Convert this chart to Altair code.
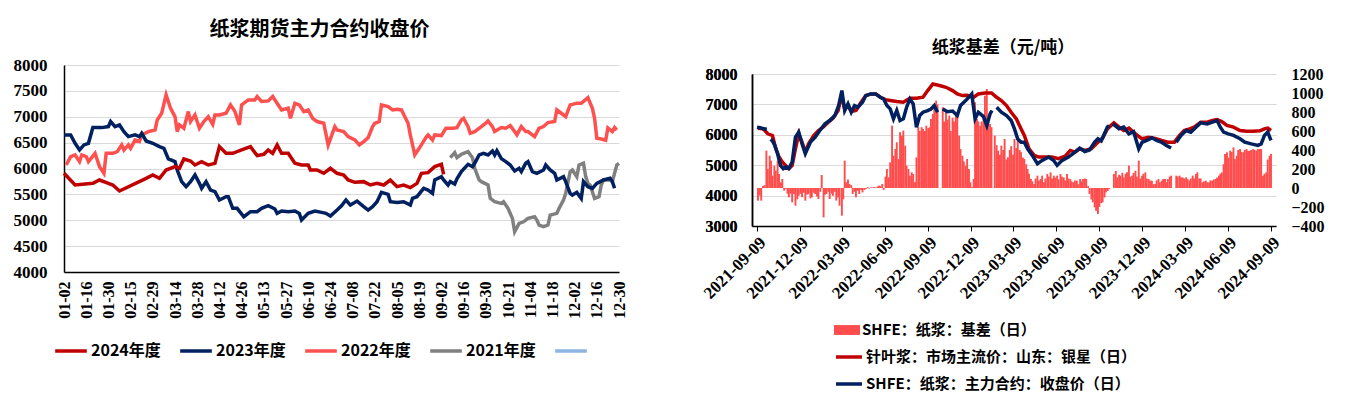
import altair as alt
import pandas as pd

FONT_NUM = "Liberation Serif"
FONT_CJK = "Noto Sans CJK SC"

# ---------------- left chart: 纸浆期货主力合约收盘价 ----------------
tick_labels_left = ["01-02", "01-16", "01-30", "02-15", "02-29", "03-14", "03-28", "04-12", "04-26",
                    "05-13", "05-27", "06-10", "06-24", "07-08", "07-22", "08-05", "08-19", "09-02",
                    "09-16", "09-30", "10-21", "11-04", "11-18", "12-02", "12-16", "12-30"]
series_left = ["2024年度", "2023年度", "2022年度", "2021年度", " "]
colors_left = ["#C00000", "#002060", "#FF5050", "#808080", "#8EB4E3"]

idx_2024 = [0, 5, 13, 16, 20, 22, 25, 37, 40, 43, 46, 50, 52, 54, 57, 59, 62, 65, 68, 70, 73, 76, 80, 84,
            87, 90, 92, 94, 96, 98, 101, 104, 107, 110, 111, 114, 117, 120, 123, 126, 128, 131, 135, 138,
            141, 144, 147, 150, 153, 156, 159, 161, 164, 167, 170, 171]
val_2024 = [5907, 5681, 5713, 5778, 5713, 5681, 5565, 5810, 5875, 5810, 5971, 6036, 6004, 6184, 6145, 6068,
            6133, 6068, 6100, 6423, 6294, 6294, 6358, 6423, 6249, 6275, 6358, 6294, 6455, 6294, 6294, 6101,
            6068, 6068, 5971, 5971, 5907, 6004, 5907, 5875, 5778, 5733, 5746, 5681, 5713, 5681, 5778, 5649,
            5681, 5630, 5713, 5907, 5920, 6036, 6081, 5888]

idx_2023 = [0, 3, 5, 7, 9, 11, 13, 17, 20, 21, 23, 25, 27, 29, 32, 34, 35, 37, 40, 43, 45, 47, 50, 51, 53,
            55, 57, 59, 61, 62, 64, 66, 68, 70, 73, 74, 76, 78, 81, 83,
            84, 87, 89, 92, 95, 96, 98, 101, 104, 106, 107, 110, 113, 116, 118, 120, 123, 125, 127, 129,
            132, 135, 137, 139, 141, 143, 146, 147, 150, 153, 156, 157, 159, 162, 164, 166,
            167, 170, 171, 173, 174, 176, 177, 179, 182, 184, 185, 187, 189, 191, 193, 194, 195, 197, 199,
            201, 203, 205, 206, 208, 209, 211, 213, 216, 217, 219, 221, 222, 225, 226, 228, 229, 231, 233,
            234, 236, 238, 240, 243, 246, 247, 248]
val_2023 = [6649, 6649, 6487, 6358, 6455, 6487, 6790, 6790, 6810, 6907, 6810, 6842, 6713, 6616, 6649, 6616,
            6681, 6532, 6487, 6423, 6390, 6184, 6133, 5971, 5746, 5649, 5746, 5875, 5713, 5617, 5746, 5584,
            5552, 5391, 5455, 5455, 5230, 5230, 5068, 5133,
            5165, 5165, 5230, 5281, 5217, 5133, 5178, 5165, 5178, 5133, 5004, 5133, 5178, 5152, 5133, 5081,
            5197, 5281, 5391, 5294, 5371, 5262, 5197, 5262, 5358, 5539, 5500, 5358, 5345, 5358, 5294, 5423,
            5455, 5617, 5584, 5520,
            5778, 5842, 5778, 5681, 5746, 5700, 5800, 5939, 6081, 6036, 6101, 6262, 6294, 6262, 6339, 6262,
            6345, 6191, 6133, 6068, 5952, 6004, 5939, 6101, 6133, 5939, 5907, 5971, 6068, 5971, 5907, 5778,
            5842, 5746, 5520, 5487, 5539, 5423, 5746, 5649, 5617, 5713, 5778, 5810, 5746, 5617]

idx_2022 = [1, 3, 5, 7, 8, 10, 11, 14, 15, 16, 18, 19, 22, 24, 26, 27, 29, 30, 32, 34, 35, 38, 41, 42, 44,
            46, 48, 50, 51, 52, 54, 56, 57, 59, 61, 63, 65, 67, 68, 70, 73, 75, 77, 79, 80, 83,
            86, 87, 89, 92, 94, 96, 98, 101, 102, 104, 106, 108, 110, 112, 114, 117, 119, 122, 123, 126,
            128, 131, 133, 135, 137, 139, 140, 142, 143, 146, 148, 150, 152, 155, 156, 158, 160, 163, 164, 166,
            167, 170, 172, 175, 177, 179, 180, 182, 183, 185, 188, 190, 191, 193, 194, 197, 199, 201, 203,
            204, 206, 208, 209, 212, 214, 216, 218, 221, 222, 224, 226, 228, 231, 233, 236, 238, 239, 240,
            242, 244, 245, 247, 248, 249]
val_2022 = [6068, 6229, 6262, 6133, 6262, 6229, 6133, 6294, 6165, 6036, 5907, 6294, 6294, 6326, 6455, 6358,
            6455, 6390, 6552, 6520, 6649, 6713, 6745, 6939, 7068, 7423, 7165, 7003, 6713, 6842, 6778, 7100,
            6907, 7036, 6778, 6907, 7003, 6855, 7036, 7036, 7068, 7229, 7100, 6842, 7229, 7326,
            7326, 7390, 7294, 7306, 7390, 7261, 7132, 7165, 6971, 7261, 7229, 7100, 7132, 6971, 6907, 6874,
            6455, 6810, 6745, 6713, 6616, 6552, 6455, 6520, 6597, 6810, 6874, 6907, 7229, 7197, 7132, 7145,
            7132, 6874, 6649, 6262, 6390, 6597, 6649, 6552,
            6649, 6636, 6778, 6778, 6790, 6939, 6971, 6810, 6681, 6713, 6810, 6874, 6920, 6810, 6713, 6790,
            6778, 6830, 6713, 6649, 6810, 6713, 6713, 6616, 6778, 6810, 6888, 6907, 7132, 7068, 7003, 7229,
            7261, 7261, 7371, 7165, 6971, 6584, 6571, 6546, 6784, 6713, 6791, 6745]

idx_2021 = [174, 176, 177, 179, 180, 182, 184, 185, 187, 188, 191, 192, 194, 197, 198, 200, 202, 203, 205,
            207, 209, 212, 213, 214, 216, 218, 219, 222, 223, 225, 226, 228, 229, 231, 232, 234, 235, 236,
            237, 239, 241, 242, 243, 246, 247, 249, 250]
val_2021 = [6210, 6307, 6210, 6275, 6294, 6326, 6210, 6004, 5778, 5746, 5681, 5423, 5358, 5326, 5358, 5230,
            5036, 4778, 4939, 4970, 5036, 5068, 5004, 4907, 4875, 4907, 5100, 5133, 5230, 5391, 5520, 5939,
            5971, 5842, 6068, 6101, 5842, 5713, 5681, 5423, 5455, 5681, 5778, 5778, 5746, 6068, 6100]

left_rows = []
for name, idx, val in [("2022年度", idx_2022, val_2022), ("2021年度", idx_2021, val_2021),
                       ("2023年度", idx_2023, val_2023), ("2024年度", idx_2024, val_2024)]:
    assert len(idx) == len(val), name
    left_rows += [{"idx": i, "val": v, "series": name} for i, v in zip(idx, val)]
left_df = pd.DataFrame(left_rows)

label_expr = "[" + ",".join("'%s'" % s for s in tick_labels_left) + "][round(datum.value / 10)]"

x_left = alt.X("idx:Q", scale=alt.Scale(domain=[0, 250], nice=False, zero=False),
               axis=alt.Axis(values=list(range(0, 251, 10)), labelExpr=label_expr, labelAngle=-90,
                             ticks=False, grid=False, domainColor="black", domainWidth=1.5, title=None,
                             labelFont=FONT_NUM, labelFontWeight="bold", labelFontSize=16,
                             labelColor="black", labelPadding=9, labelOverlap=False))
y_left = alt.Y("val:Q", scale=alt.Scale(domain=[4000, 8000], nice=False, zero=False),
               axis=alt.Axis(values=list(range(4000, 8001, 500)), format="d", grid=True,
                             gridColor="#D9D9D9", gridWidth=1.2, ticks=False, domainColor="black",
                             domainWidth=1.5, title=None, labelFont=FONT_NUM, labelFontWeight="bold",
                             labelFontSize=17, labelColor="black", labelPadding=17))
color_left = alt.Color("series:N", scale=alt.Scale(domain=series_left, range=colors_left),
                       legend=alt.Legend(title=None, orient="none", legendX=-11, legendY=268,
                                         direction="horizontal", symbolType="stroke", symbolSize=1000,
                                         symbolStrokeWidth=3.5, labelFont=FONT_CJK, labelFontWeight="bold",
                                         labelFontSize=16, labelColor="black", columnPadding=12,
                                         labelOffset=2, padding=0, labelLimit=0))

left_layers = []
for name in ["2022年度", "2021年度", "2023年度", "2024年度"]:
    left_layers.append(
        alt.Chart(left_df).transform_filter(alt.datum.series == name)
        .mark_line(strokeWidth=3.5)
        .encode(x=x_left, y=y_left, color=color_left, order=alt.Order("idx:Q"))
    )
left = alt.layer(*left_layers).properties(
    width=555, height=207,
    title=alt.TitleParams("纸浆期货主力合约收盘价", font=FONT_CJK, fontSize=20, fontWeight="bold",
                          color="black", anchor="middle", dx=-22, offset=16))

# ---------------- right chart: 纸浆基差（元/吨） ----------------
start_date = "2021-09-09"
basis_name = "SHFE：纸浆：基差（日）"
spot_name = "针叶浆：市场主流价：山东：银星（日）"
fut_name = "SHFE：纸浆：主力合约：收盘价（日）"

spot_day = [2, 13, 23, 33, 40, 47, 54, 61, 68, 75, 82, 89, 96, 103, 110, 121, 131, 141, 152, 162, 173, 180,
            187, 194, 201, 211, 222, 232, 243, 253, 263, 274, 284, 298, 312, 326, 340, 354, 364,
            375, 389, 403, 417, 427, 438, 448, 462, 472, 486, 500, 511, 521, 532, 542, 553, 563, 570, 580,
            591, 601, 615, 629, 643, 657, 668, 678, 688, 699, 713,
            723, 737, 747, 761, 772, 782, 793, 807, 821, 835, 849, 863, 876, 890, 901, 911, 922, 932, 946,
            960, 971, 981, 991, 1002, 1016, 1030, 1044, 1058, 1072, 1082, 1089, 1096]
spot_val = [6218, 6200, 6033, 5978, 5541, 5268, 5104, 4994, 4885, 4994, 5541, 6033, 5760, 5431, 5705, 5978,
            6142, 6250, 6415, 6546, 6798, 7290, 6852, 6960, 6765, 6800, 7071, 7290, 7344, 7344, 7235, 7158,
            7130, 7093, 7071, 7202, 7202, 7235, 7454,
            7672, 7620, 7563, 7454, 7344, 7290, 7300, 7235, 7344, 7377, 7377, 7235, 7126, 6962, 6743, 6524,
            6196, 5978, 5541, 5322, 5268, 5268, 5268, 5213, 5300, 5486, 5431, 5541, 5486, 5541,
            5700, 5900, 6196, 6393, 6251, 6142, 6220, 6033, 5869, 5920, 5880, 5814, 5759, 5759, 5978, 6142,
            6196, 6251, 6415, 6415, 6469, 6500, 6437, 6306, 6251, 6142, 6120, 6120, 6130, 6196, 6218, 6142]

# None marks a holiday break in the futures series
fut_day = [0, 7, 14, 21, 25,
           29, 33, 38, 44, 50, 56, 62, 68, 75, 82, 89, 96, 103, 114, 124, 134, 145, 155, 166, 174, 181, 187,
           194, 201, 208, 215, 225, 232, 243, 253, 263, 270, 277, 284, 291, 298, 305, 312, 319, 326, 333,
           340, 347, 354, 364, 371, 378, 385, 390,
           396, 406, 417, 427, 434, 445, 458, 465, 472, 483, 490, 497, 501, 505,
           511, 521, 532, 542, 549, 556, 563, 570, 577, 587, 598, 608, 622, 633, 640, 650, 664, 678, 688,
           699, 709, 720, 727, 734, 740, 747, 751, 755,
           759, 772, 782, 793, 803, 814, 821, 831, 842, 852, 862, 873, 883, 888,
           894, 904, 915, 925, 936, 946, 960, 971, 981, 988, 995, 1005, 1016, 1030, 1040, 1054, 1068, 1075,
           1082, 1089, 1096]
fut_val = [6251, 6230, 6196, 6180, None,
           5847, 5800, 5650, 5377, 4994, 4885, 4940, 4900, 5104, 5923, 6087, 5705, 5377, 5759, 5923, 6142,
           6360, 6469, 6634, 6962, 7454, 6798, 7017, 6743, 6962, 6907, 7071, 7290, 7344, 7344, 7235, 7180,
           6962, 6852, 6524, 6800, 6469, 6524, 6907, 7180, 7017, 6251, 6634, 6743, 6798, 6850, 6962, 6743,
           None,
           6852, 6760, 6780, 6634, 6962, 7126, 7344, 6524, 6743, 6600, 6306, 6688, 6800, None,
           6907, 6743, 6634, 6469, 6196, 5859, 5759, 5759, 5541, 5322, 5049, 5158, 5268, 5150, 4994, 5150,
           5268, 5431, 5563, 5450, 5500, 5759, 5869, 5800, 6000, 6251, 6300, None,
           6360, 6200, 6251, 6033, 6100, 5541, 5750, 5814, 5900, 5814, 5759, 5650, 5563, None,
           5759, 5978, 6142, 6087, 6251, 6393, 6360, 6415, 6469, 6251, 6087, 6033, 5980, 5870, 5759, 5700,
           5650, 5700, 5978, 6087, 5814]

basis_day = [2, 6, 9, 13, 16, 20, 23, 27, 30, 33, 37, 40, 44, 47, 51, 54, 58, 61, 65, 68, 72, 75, 79, 82,
             86, 89, 93, 96, 100, 103, 107, 110, 114, 117, 121, 124, 128, 131, 135, 138, 142, 145, 148, 152,
             155, 159, 162, 166, 169, 173, 176, 181, 184, 187, 190, 194, 197, 201, 204, 208, 211, 215, 218,
             222, 225, 229, 232, 236, 239, 243, 246, 250, 253, 257, 260, 263, 267, 270, 274, 277, 281, 284,
             288, 291, 295, 298, 302, 305, 309, 312, 316, 319, 323, 326, 330, 333, 337, 340, 344, 347, 351,
             354, 358, 361, 365, 368,
             371, 375, 378, 382, 385, 396, 399, 403, 406, 410, 413, 417, 420, 424, 427, 431, 434, 438, 441,
             445, 448, 452, 455, 459, 462, 465, 469, 472, 476, 479, 483, 486, 490, 493, 497, 500, 507, 511,
             514, 518, 521, 525, 528, 532, 535, 539, 542, 546, 549, 553, 556, 560, 563, 567, 570, 574, 577,
             580, 584, 587, 591, 594, 598, 601, 605, 608, 612, 615, 619, 622, 626, 629, 633, 636, 640, 643,
             647, 650, 654, 657, 661, 664, 668, 671, 675, 678, 682, 685, 689, 692, 695, 699, 702, 706, 709,
             713, 716, 720, 723, 727, 730, 734, 737, 741, 744, 748, 751,
             761, 765, 768, 772, 775, 779, 782, 786, 789, 793, 796, 800, 803, 807, 810, 814, 817, 821, 824,
             828, 831, 835, 838, 842, 845, 849, 852, 856, 859, 863, 866, 870, 873, 876, 880, 883,
             894, 897, 901, 904, 908, 911, 915, 918, 922, 925, 929, 932, 936, 939, 943, 946, 950, 953, 957,
             960, 964, 967, 971, 974, 978, 981, 985, 988, 991, 995, 998, 1002, 1005, 1009, 1012, 1016, 1019,
             1023, 1026, 1030, 1033, 1037, 1040, 1044, 1047, 1051, 1054, 1058, 1061, 1065, 1068, 1072, 1075,
             1079, 1082, 1086, 1089, 1093, 1096]
basis_val = [-133, -80, -133, 20, 30, 393, 200, 340, 288, 130, 235, 182, 288, 147, 60, 95, -28, -10, -60,
             -98, -60, -151, -63, -186, -120, -81, -60, -98, -50, -133, -70, -63, -110, -98, -50, -63, -90,
             -116, -40, 137, -309, -70, -63, -40, -116, -60, -81, -40, -133, -100, -186, -291, -120, 288, 60,
             90, 42, 30, -63, -40, -98, -30, -63, -20, -46, -20, -10, 10, -5, 5, 5, 10, 5, 15, 25, 20, 42,
             -20, 120, 200, 112, 270, 656, 340, 410, 481, 305, 586, 551, 604, 446, 235, 200, 130, 165, 147,
             60, 323, 639, 600, 640, 621, 600, 656, 630, 639,
             727, 780, 832, 920, 880, 849, 700, 797, 720, 762, 600, 740, 700, 762, 744, 551, 410, 340, 280,
             235, 305, 200, 60, 10, 95, 902, 727, 700, 656, 700, 740, 972, 1042, 740, 674, 640, 551, 450,
             393, 350, 446, 400, 516, 300, 323, 400, 440, 350, 516, 420, 500, 400, 376, 320, 305, 250, 200,
             150, 95, 70, 42, 100, 130, 80, 95, 130, 60, 100, 147, 120, 165, 100, 130, 110, 130, 90,
             147, 120, 112, 80, 147, 100, 95, 70, 60, 80, 77, 40, 95, 70, 95, 100, 95, 20, -63,
             -120, -151, -204, -240, -274, -200, -160, -151, -100, -46, -30, -10,
             147, 180, 112, 140, 130, 160, 112, 150, 165, 235, 120, 130, 160, 182, 120, 288, 100, 130, 150,
             165, 100, 95, 80, 77, 40, 42, 80, 95, 60, 77, 95, 95, 60, 95, 120, 130,
             130, 120, 130, 112, 110, 100, 112, 95, 80, 100, 130, 100, 147, 165, 100, 100, 60, 70, 77,
             60, 60, 80, 77, 90, 95, 110, 130, 150, 165, 250, 358, 376, 320, 393, 380, 428, 305,
             340, 400, 410, 380, 376, 400, 410, 390, 393, 400, 410, 400, 393, 410, 410, 410,
             130, 150, 165, 300, 340, 358]

assert len(spot_day) == len(spot_val)
assert len(fut_day) == len(fut_val)
assert len(basis_day) == len(basis_val)

base_ts = pd.Timestamp(start_date)


def to_date(d):
    return (base_ts + pd.Timedelta(days=int(d))).strftime("%Y-%m-%dT00:00:00")


basis_df = pd.DataFrame({"date": [to_date(d) for d in basis_day], "val": basis_val,
                         "series": basis_name})
spot_df = pd.DataFrame({"date": [to_date(d) for d in spot_day], "val": spot_val, "series": spot_name})
fut_rows = []
seg = 0
for d, v in zip(fut_day, fut_val):
    if v is None:
        seg += 1
        continue
    fut_rows.append({"date": to_date(d), "val": v, "series": fut_name, "seg": seg})
fut_df = pd.DataFrame(fut_rows)

quarter_ticks = [alt.DateTime(year=y, month=m, date=9) for (y, m) in
                 [(2021, 9), (2021, 12), (2022, 3), (2022, 6), (2022, 9), (2022, 12), (2023, 3),
                  (2023, 6), (2023, 9), (2023, 12), (2024, 3), (2024, 6), (2024, 9)]]

x_right = alt.X("date:T",
                scale=alt.Scale(domain=[alt.DateTime(year=2021, month=9, date=9),
                                        alt.DateTime(year=2024, month=9, date=9)]),
                axis=alt.Axis(values=quarter_ticks, format="%Y-%m-%d", labelAngle=-45, ticks=True,
                              tickColor="black", tickSize=5, domainColor="black", domainWidth=1.5,
                              grid=False, title=None, labelFont=FONT_NUM, labelFontWeight="bold",
                              labelFontSize=17, labelColor="black", labelOverlap=False, labelPadding=3))
y_price = alt.Y("val:Q", scale=alt.Scale(domain=[3000, 8000], nice=False, zero=False),
                axis=alt.Axis(orient="left", values=list(range(3000, 8001, 1000)), format="d", grid=True,
                              gridColor="#D9D9D9", gridWidth=1.2, ticks=False, domainColor="black",
                              domainWidth=1.5, title=None, labelFont=FONT_NUM, labelFontWeight="bold",
                              labelFontSize=16, labelColor="black", labelPadding=15))
y_basis = alt.Y("val:Q", scale=alt.Scale(domain=[-400, 1200], nice=False),
                axis=alt.Axis(orient="right", values=list(range(-400, 1201, 200)), format="d", grid=False,
                              domain=False, ticks=False, title=None, labelFont=FONT_NUM,
                              labelFontWeight="bold", labelFontSize=16, labelColor="black",
                              labelPadding=15))

fill_enc = alt.Fill("series:N", scale=alt.Scale(domain=[basis_name], range=["#FF4D4D"]),
                    legend=alt.Legend(title=None, orient="none", legendX=82, legendY=243,
                                      symbolType="M-1,-0.38H1V0.38H-1Z", symbolSize=676,
                                      symbolStrokeWidth=0, labelFont=FONT_CJK, labelFontWeight="bold",
                                      labelFontSize=15, labelColor="black", labelOffset=2, padding=0,
                                      labelLimit=0))
stroke_enc = alt.Stroke("series:N", scale=alt.Scale(domain=[spot_name, fut_name],
                                                    range=["#C00000", "#002060"]),
                        legend=alt.Legend(title=None, orient="none", legendX=82, legendY=268,
                                          direction="vertical", symbolType="stroke", symbolSize=676,
                                          symbolStrokeWidth=3.5, labelFont=FONT_CJK,
                                          labelFontWeight="bold", labelFontSize=15, labelColor="black",
                                          labelOffset=2, rowPadding=4, padding=0, labelLimit=0))

bars = alt.Chart(basis_df).mark_bar(size=1.9).encode(x=x_right, y=y_basis, fill=fill_enc)
spot_line = alt.Chart(spot_df).mark_line(strokeWidth=3.5).encode(x=x_right, y=y_price, stroke=stroke_enc)
fut_line = alt.Chart(fut_df).mark_line(strokeWidth=3.5).encode(x=x_right, y=y_price, stroke=stroke_enc,
                                                               detail=alt.Detail("seg:N"))

right_plot = alt.layer(bars, spot_line, fut_line).resolve_scale(y="independent").properties(
    width=524, height=152)

# invisible header strip that carries the right-hand title and drops that plot a little lower
right_header = alt.Chart(pd.DataFrame({"blank": [0]})).mark_point(opacity=0, size=0).properties(
    width=524, height=1,
    title=alt.TitleParams("纸浆基差（元/吨）", font=FONT_CJK, fontSize=17, fontWeight="bold",
                          color="black", anchor="middle", dx=-11, offset=8))

right = alt.vconcat(right_header, right_plot, spacing=0).resolve_scale(
    fill="independent", stroke="independent")

chart = (
    alt.hconcat(left, right, spacing=73)
    .resolve_scale(color="independent", fill="independent", stroke="independent")
    .properties(padding={"left": 5, "top": 12, "right": 5, "bottom": 5}, background="white")
    .configure_view(stroke=None)
)

chart.save("out.html", embed_options={"renderer": "svg", "actions": False})
